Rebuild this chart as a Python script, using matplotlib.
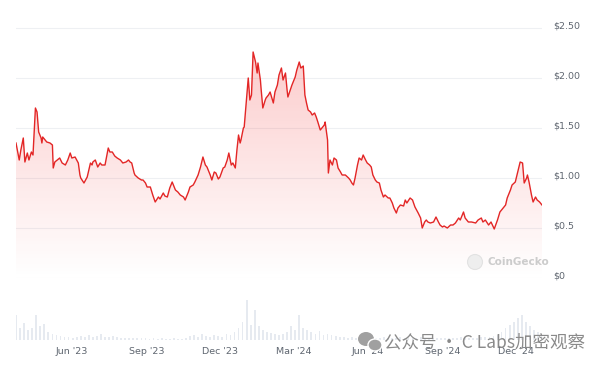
import numpy as np
import pandas as pd
import matplotlib
matplotlib.use('Agg')
import matplotlib.pyplot as plt
import matplotlib.dates as mdates
from matplotlib.patches import Ellipse
from matplotlib.transforms import ScaledTranslation

# price data (days after 2023-03-24, USD)
start = pd.Timestamp('2023-03-24')
price_day = [0, 4, 6, 9, 11, 14, 16, 19, 21, 24, 26, 28, 31, 32, 33, 36, 38, 42, 45, 46,
             48, 51, 54, 57, 61, 64, 67, 69, 73, 77, 79, 80, 84, 88, 92, 94, 95, 98, 101, 104,
             106, 110, 114, 116, 119, 122, 125, 129, 132, 136, 139, 141, 143, 146, 147, 151, 155, 157, 160, 162,
             166, 169, 172, 176, 178, 182, 184, 187, 190, 193, 197, 200, 203, 207, 209, 213, 215, 219, 221, 225,
             228, 231, 234, 236, 240, 242, 245, 247, 250, 252, 256, 258, 261, 263, 266, 268, 271, 273, 275, 277,
             278, 281, 282, 284, 287, 289, 291, 293, 296, 298, 299, 302, 303, 305, 308, 309, 312, 314, 317, 318,
             320, 323, 325, 328, 330, 333, 335, 336, 339, 341, 345, 347, 350, 352, 355, 357, 359, 361, 364, 366,
             369, 371, 373, 376, 378, 381, 382, 385, 386, 388, 391, 393, 396, 398, 401, 403, 407, 411, 413, 415,
             417, 419, 422, 424, 427, 429, 432, 434, 437, 439, 441, 444, 446, 449, 451, 454, 456, 460, 462, 465,
             467, 470, 472, 475, 479, 481, 483, 487, 490, 493, 497, 500, 502, 505, 507, 509, 512, 516, 519, 522,
             524, 527, 529, 533, 537, 540, 543, 547, 549, 553, 555, 559, 563, 568, 571, 575, 577, 580, 584, 587,
             591, 595, 598, 602, 605, 607, 611, 613, 617, 620, 623, 626, 628, 631, 632, 634, 637, 639, 642, 644,
             647, 650]
price = [1.35, 1.18, 1.28, 1.40, 1.16, 1.25, 1.18, 1.26, 1.23, 1.70, 1.66, 1.46, 1.40, 1.35, 1.41, 1.38, 1.36, 1.35, 1.33, 1.10,
         1.16, 1.18, 1.20, 1.15, 1.13, 1.18, 1.25, 1.20, 1.21, 1.15, 1.03, 1.00, 0.95, 1.01, 1.15, 1.13, 1.16, 1.18, 1.11, 1.15,
         1.13, 1.13, 1.30, 1.26, 1.26, 1.22, 1.20, 1.18, 1.15, 1.16, 1.18, 1.16, 1.15, 1.05, 1.03, 1.00, 0.98, 0.98, 0.95, 0.91,
         0.91, 0.83, 0.76, 0.81, 0.79, 0.85, 0.82, 0.81, 0.90, 0.96, 0.88, 0.86, 0.83, 0.81, 0.78, 0.86, 0.91, 0.93, 0.96, 1.03,
         1.11, 1.21, 1.13, 1.11, 1.03, 0.98, 1.06, 1.05, 0.99, 1.01, 1.10, 1.11, 1.18, 1.25, 1.13, 1.15, 1.10, 1.28, 1.43, 1.35,
         1.38, 1.50, 1.51, 1.71, 2.00, 1.78, 1.83, 2.26, 2.16, 2.05, 2.15, 1.98, 1.88, 1.70, 1.78, 1.80, 1.83, 1.86, 1.78, 1.75,
         1.86, 1.93, 2.03, 2.10, 1.98, 2.05, 1.88, 1.81, 1.88, 1.93, 2.01, 2.08, 2.16, 2.10, 2.12, 1.83, 1.75, 1.68, 1.66, 1.63,
         1.65, 1.61, 1.56, 1.48, 1.50, 1.53, 1.56, 1.38, 1.05, 1.18, 1.13, 1.20, 1.18, 1.10, 1.06, 1.03, 1.03, 1.00, 0.98, 0.95,
         0.93, 1.00, 1.13, 1.20, 1.18, 1.23, 1.18, 1.15, 1.13, 1.11, 1.03, 0.98, 0.96, 0.95, 0.88, 0.81, 0.83, 0.80, 0.80, 0.75,
         0.70, 0.65, 0.70, 0.73, 0.72, 0.78, 0.75, 0.80, 0.78, 0.71, 0.65, 0.60, 0.50, 0.56, 0.58, 0.56, 0.55, 0.56, 0.61, 0.56,
         0.53, 0.51, 0.52, 0.50, 0.53, 0.53, 0.55, 0.60, 0.58, 0.66, 0.60, 0.56, 0.56, 0.55, 0.58, 0.60, 0.56, 0.58, 0.53, 0.56,
         0.49, 0.58, 0.66, 0.70, 0.73, 0.80, 0.88, 0.93, 0.96, 1.06, 1.16, 1.15, 0.95, 1.00, 1.03, 0.96, 0.83, 0.76, 0.81, 0.78,
         0.76, 0.73]

# volume, every 5 days, relative units
vol = [25, 12, 17, 10, 12, 25, 14, 16, 8, 6, 5, 4, 3, 3, 2, 3, 4, 3, 5, 3,
       4, 6, 3, 3, 4, 3, 2, 2, 2, 2, 2, 2, 2, 1, 2, 1, 2, 1, 1, 2,
       1, 1, 2, 4, 5, 3, 6, 4, 3, 5, 4, 3, 6, 5, 8, 12, 18, 40, 15, 30,
       14, 10, 8, 7, 6, 5, 6, 8, 14, 10, 25, 12, 10, 8, 6, 9, 5, 6, 5, 4,
       3, 3, 2, 3, 2, 2, 3, 2, 2, 2, 2, 3, 2, 2, 2, 3, 2, 2, 2, 2,
       3, 2, 2, 2, 2, 2, 2, 2, 2, 2, 3, 2, 2, 2, 2, 3, 3, 3, 4, 5,
       8, 12, 15, 18, 22, 25, 18, 14, 10, 8, 6]
vol_day = list(range(0, 5 * len(vol), 5))

month_ticks = ['2023-06-01', '2023-09-01', '2023-12-01', '2024-03-01', '2024-06-01', '2024-09-01', '2024-12-01']
month_labels = ["Jun '23", "Sep '23", "Dec '23", "Mar '24", "Jun '24", "Sep '24", "Dec '24"]
y_ticks = [0, 0.5, 1.0, 1.5, 2.0, 2.5]
y_labels = ['$0', '$0.5', '$1.00', '$1.50', '$2.00', '$2.50']

x = mdates.date2num(start + pd.to_timedelta(price_day, unit='D'))
xv = mdates.date2num(start + pd.to_timedelta(vol_day, unit='D'))
x0, x1 = x[0], mdates.date2num(start + pd.Timedelta(days=650))

W, H = 600, 366
fig = plt.figure(figsize=(W / 100, H / 100), dpi=100)
fig.patch.set_facecolor('white')

line_col = '#e32626'
tick_col = '#5f6670'

# price panel
ax = fig.add_axes([16 / W, (H - 278) / H, 526 / W, 260 / H])
ax.set_xlim(x0, x1)
ax.set_ylim(0, 2.6)
for s in ax.spines.values():
    s.set_visible(False)
ax.grid(axis='y', color='#eef0f3', lw=0.8)
ax.set_axisbelow(True)

poly = ax.fill_between(x, price, 0, color='none', lw=0)
grad = np.zeros((256, 1, 4))
grad[:, 0, 0] = 0.96
grad[:, 0, 1] = 0.25
grad[:, 0, 2] = 0.25
grad[:, 0, 3] = np.linspace(0.0, 0.27, 256)
im = ax.imshow(grad, extent=[x0, x1, 0, 2.3], origin='lower', aspect='auto', zorder=1)
im.set_clip_path(poly.get_paths()[0], transform=ax.transData)
ax.plot(x, price, color=line_col, lw=1.0, zorder=3)

ax.set_xticks([])
ax.yaxis.tick_right()
ax.set_yticks(y_ticks)
ax.set_yticklabels(y_labels)
ax.tick_params(axis='y', length=0, pad=8, labelsize=6.8, labelcolor=tick_col)
off = ScaledTranslation(0, 3 / 100, fig.dpi_scale_trans)
for lbl in ax.get_yticklabels():
    lbl.set_horizontalalignment('left')
    lbl.set_transform(lbl.get_transform() + off)

# volume panel
axv = fig.add_axes([16 / W, (H - 340) / H, 526 / W, 40 / H])
axv.bar(xv, vol, width=2.2, color='#e6eaf0', lw=0)
axv.set_xlim(x0, x1)
axv.set_ylim(0, 40)
for s in axv.spines.values():
    s.set_visible(False)
axv.set_yticks([])
axv.set_xticks(mdates.date2num(pd.to_datetime(month_ticks)))
axv.set_xticklabels(month_labels)
axv.tick_params(axis='x', length=0, pad=5, labelsize=6.8, labelcolor=tick_col)

# CoinGecko watermark
fig.patches.append(Ellipse((475 / W, 1 - 262 / H), 15 / W, 15 / H, transform=fig.transFigure,
                           facecolor='#eeeeee', edgecolor='#e2e2e2', lw=0.8))
fig.text(487 / W, 1 - 262 / H, 'CoinGecko', fontsize=7.5, color='#cccccc', weight='bold', va='center')

# WeChat watermark
fig.patches.append(Ellipse((366 / W, 1 - 339 / H), 16 / W, 14 / H, transform=fig.transFigure,
                           facecolor='#a0a0a0', edgecolor='none'))
fig.patches.append(Ellipse((375 / W, 1 - 345 / H), 14 / W, 12 / H, transform=fig.transFigure,
                           facecolor='#a0a0a0', edgecolor='white', lw=1.0))
fig.text(384 / W, 1 - 342 / H, '公众号 · C Labs加密观察', fontsize=12.6, color='#8a8a8a', va='center',
         family=['Noto Sans CJK SC', 'DejaVu Sans'])

fig.savefig('out.png', dpi=100, facecolor='white')
